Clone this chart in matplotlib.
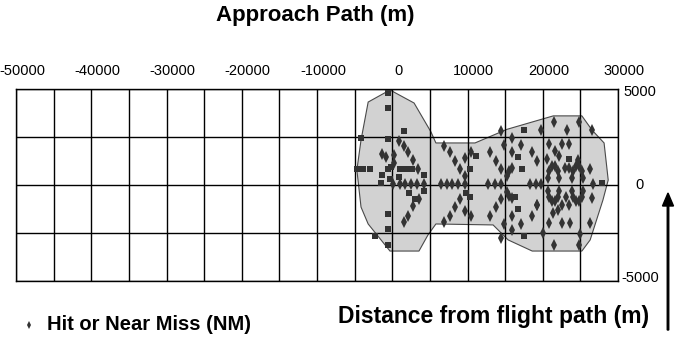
import matplotlib
matplotlib.use("Agg")
import matplotlib.pyplot as plt
import matplotlib.transforms as mtransforms
from matplotlib.patches import Polygon, FancyArrow

plt.rcParams["font.family"] = ["Liberation Sans", "DejaVu Sans"]

# top axis (approach path) and right axis (distance from flight path)
x_ticks = [-50000, -40000, -30000, -20000, -10000, 0, 10000, 20000, 30000]
x_labels = ["-50000", "-40000", "-30000", "-20000", "-10000", "0", "10000", "20000", "30000"]
y_ticks = [-5000, 0, 5000]
y_labels = ["-5000", "0", "5000"]

# outline of the shaded hit area
region_x = [-300, 2900, 5150, 5800, 11000, 15250, 21400, 25200, 26550, 28150, 28700,
            28000, 26300, 25200, 18600, 15400, 13400, 5800, 4750, 3550, -300,
            -3200, -4150, -4700, -4150, -3200]
region_y = [4950, 4270, 2760, 2190, 2190, 2900, 3600, 3600, 2860, 2190, 260,
            -780, -2860, -3440, -3440, -2860, -2080, -2030, -2600, -3440, -3440,
            -2030, -1150, 780, 2340, 4320]

# hits / near misses (diamonds)
hit_x = [900, 1500, 2100, -1300, -800, 200, 2800, 200, 3400,
         100, 1000, 1650, 2450, 3300, 4200, 3550, 2800, 2100, 1500,
         6900, 7700, 8400, 9000, 9700, 10500, 9700,
         6500, 7250, 7950, 8750, 9700, 9000, 8400, 9700, 10500, 7700, 6900,
         13000, 13850, 14500, 14900, 14400, 15950, 17150, 15950, 18600, 19250,
         15200, 15500, 15900, 12750, 13650, 14400, 18300, 19050, 19750,
         15200, 15500, 15950, 14500, 13850, 13000, 15950, 18600, 14850, 17150,
         15950, 14400, 19250,
         21500, 24800, 19750, 23200, 26500, 20850, 22500, 23500, 21650, 22100,
         24750, 26300, 22900, 23500, 20500, 26700,
         20700, 20850, 21200, 21650, 22000, 22200,
         23900, 24050, 24400, 24850, 25200, 25350,
         20700, 20850, 21200, 21650, 22000, 22200,
         23900, 24050, 24400, 24850, 25200, 25350,
         23100, 22500, 22000, 21400, 23500, 26500, 19300,
         20850, 22500, 23600, 26300, 20000, 25000, 21500, 24800]
hit_y = [2300, 2050, 1700, 1600, 1450, 1550, 1300, 1150, 850,
         50, 50, 50, 50, 50, 50, -750, -1100, -1600, -1950,
         2050, 1700, 1250, 850, 1400, 1700, 450,
         50, 50, 50, 50, 50, -750, -1150, -1350, -1600, -1600, -1950,
         1700, 1250, 850, 2100, 2800, 2450, 2100, 1700, 1700, 1250,
         450, 750, 900, 50, 50, 50, 50, 50, 50,
         -350, -550, -700, -750, -1150, -1600, -1600, -1600, -2050, -2050,
         -2350, -2750, -1050,
         3300, 3300, 2850, 2850, 2850, 2150, 2150, 2150, 1750, 1500,
         1300, 850, 900, 900, 1350, 50,
         350, 750, 1000, 1000, 750, 350,
         350, 750, 1000, 1000, 750, 350,
         -300, -650, -850, -850, -650, -300,
         -300, -650, -850, -850, -650, -300,
         -650, -1030, -1300, -1470, -1030, -690, -1030,
         -1980, -1980, -1980, -1980, -2500, -2550, -3100, -3100]

# points drawn as small squares in the original
sq_x = [-600, -600, 1600, -4200, -600, -4650, -3900, -2950, -600, -100, 1000, 1800,
        2600, -1300, 4200, 850, -350, -1450, 4200, 2200, 3000, -600, -600, -2250,
        -600, 11150, 10300, 9850, 10300, 17550, 16750, 17300, 16300, 16750, 17550,
        23500, 27900]
sq_y = [4800, 4000, 2800, 2450, 2400, 850, 850, 850, 850, 950, 850, 850,
        850, 500, 500, 400, 300, 100, -300, -400, -750, -1500, -2300, -2650,
        -3150, 1500, 850, -400, -600, 2850, 1450, 850, -650, -1250, -2650,
        1380, 100]

fig = plt.figure(figsize=(6.84, 3.37), dpi=100)
ax = fig.add_axes([16 / 684, 1 - 281 / 337, 602 / 684, 192 / 337])

ax.add_patch(Polygon(list(zip(region_x, region_y)), closed=True,
                     facecolor="#d2d2d2", edgecolor="#4a4a4a", lw=0.8, zorder=1))

ax.set_xlim(-50000, 30000)
ax.set_ylim(-5000, 5000)
ax.set_xticks(x_ticks)
ax.set_xticks(range(-45000, 30000, 10000), minor=True)
ax.set_yticks(y_ticks)
ax.set_yticks([-2500, 2500], minor=True)
ax.grid(True, which="both", color="black", lw=1.0, zorder=2)
ax.set_axisbelow(False)
ax.tick_params(which="both", length=0, labelbottom=False, labelleft=False)
for sp in ax.spines.values():
    sp.set_color("black")
    sp.set_linewidth(1.0)

# tick labels placed by hand, slightly offset like the original
top_off = ax.get_xaxis_transform() + mtransforms.ScaledTranslation(6 / 100, 18 / 100, fig.dpi_scale_trans)
for xv, lab in zip(x_ticks, x_labels):
    ax.text(xv, 1.0, lab, transform=top_off, ha="center", va="center", fontsize=10.5)
right_shift = {-5000: 3, 0: 0, 5000: -3}
for yv, lab in zip(y_ticks, y_labels):
    tr = ax.get_yaxis_transform() + mtransforms.ScaledTranslation(22 / 100, right_shift[yv] / 100, fig.dpi_scale_trans)
    ax.text(1.0, yv, lab, transform=tr, ha="center", va="center", fontsize=10.5)

ax.plot(hit_x, hit_y, "d", color="#333333", ms=5.8, mew=0, zorder=3)
ax.plot(sq_x, sq_y, "s", color="#333333", ms=3.8, mew=0, zorder=3)

fig.text(315 / 684, 1 - 16 / 337, "Approach Path (m)", ha="center", va="center",
         fontsize=16, fontweight="bold")
fig.text(494 / 684, 1 - 317 / 337, "Distance from flight path (m)", ha="center",
         va="center", fontsize=16.5, fontweight="bold")
fig.text(47 / 684, 1 - 324 / 337, "Hit or Near Miss (NM)", ha="left", va="center",
         fontsize=14.5, fontweight="bold")
fig.lines.append(plt.Line2D([29 / 684], [1 - 325 / 337], marker="d", color="#333333",
                            ms=4, mew=0, transform=fig.transFigure))

fig.patches.append(FancyArrow(
    668 / 684, 1 - 330 / 337, 0, (330 - 193) / 337, width=1.5 / 684,
    head_width=11 / 684, head_length=13 / 337, length_includes_head=True,
    color="black", transform=fig.transFigure))

fig.savefig("out.png", dpi=100)
